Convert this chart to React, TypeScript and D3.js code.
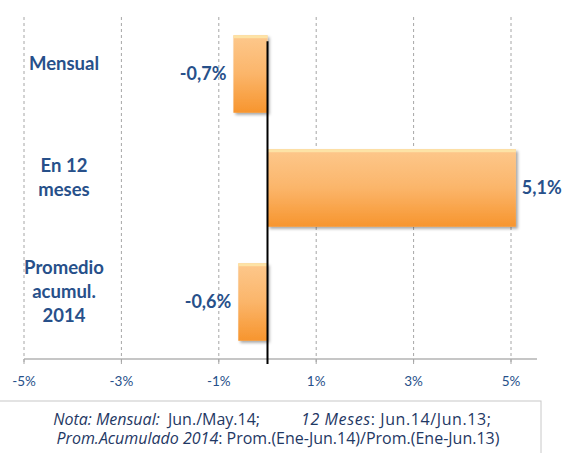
import * as d3 from 'd3'

const categories = ['Mensual', 'En 12 meses', 'Promedio acumul. 2014']
const categoryLines = [['Mensual'], ['En 12', 'meses'], ['Promedio', 'acumul.', '2014']]
const values = [-0.7, 5.1, -0.6]
const valueLabels = ['-0,7%', '5,1%', '-0,6%']
const tickValues = [-5, -3, -1, 1, 3, 5]

const width = 566
const height = 453
const font = 'Lato, "Open Sans", sans-serif'
const noteFont = '"Open Sans", Lato, sans-serif'
const blue = '#27508a'

function App() {
  const x = d3.scaleLinear().domain([-5, 5]).range([24, 511])
  const y = d3.scaleBand().domain(categories).range([17, 359]).paddingInner(0.32).paddingOuter(0.16)
  const axisY = 359

  return (
    <svg width={width} height={height} style={{ position: 'absolute', left: 0, top: 0, background: '#fff' }}>
      <defs>
        <linearGradient id="barFill" x1="0" y1="0" x2="0" y2="1">
          <stop offset="0" stopColor="#fdc88c" />
          <stop offset="0.5" stopColor="#fbb56a" />
          <stop offset="1" stopColor="#f7952e" />
        </linearGradient>
        <filter id="shadow" x="-20%" y="-20%" width="140%" height="140%">
          <feDropShadow dx="2" dy="2" stdDeviation="1.5" floodColor="#000" floodOpacity="0.35" />
        </filter>
      </defs>

      {/* grid lines */}
      {tickValues.map(t => (
        <line key={t} x1={x(t)} x2={x(t)} y1={17} y2={axisY + 4}
          stroke="#a6a6a6" strokeWidth={1} strokeDasharray="3,3" />
      ))}

      {/* x axis */}
      <line x1={x(-5)} x2={537} y1={axisY} y2={axisY} stroke="#b3b3b3" strokeWidth={1.5} />
      {tickValues.map(t => (
        <line key={'tk' + t} x1={x(t)} x2={x(t)} y1={axisY} y2={axisY + 5} stroke="#a6a6a6" strokeWidth={1} />
      ))}
      {tickValues.map(t => (
        <text key={'tl' + t} x={x(t)} y={axisY + 27} textAnchor="middle" fontFamily={font}
          fontSize={13.5} fill={blue}>{t + '%'}</text>
      ))}

      {/* bars */}
      {values.map((v, i) => {
        const y0 = y(categories[i])!
        const x0 = x(Math.min(0, v))
        const w = Math.abs(x(v) - x(0))
        const h = y.bandwidth()
        return (
          <g key={i}>
            <rect x={x0} y={y0} width={w} height={h} fill="url(#barFill)" filter="url(#shadow)" />
            <rect x={x0} y={y0} width={w} height={3} fill="#fde3a6" />
          </g>
        )
      })}

      {/* zero line */}
      <line x1={x(0)} x2={x(0)} y1={y(categories[0])! + 6} y2={axisY + 5} stroke="#000" strokeWidth={2} />

      {/* value labels */}
      {values.map((v, i) => {
        const cy = y(categories[i])! + y.bandwidth() / 2
        const pos = v >= 0
        return (
          <text key={'v' + i} x={pos ? x(v) + 6 : x(v) - 7} y={cy + 6}
            textAnchor={pos ? 'start' : 'end'} fontFamily={font} fontWeight="bold"
            fontSize={18} fill={blue}>{valueLabels[i]}</text>
        )
      })}

      {/* category labels */}
      {categoryLines.map((lines, i) => {
        const cy = y(categories[i])! + y.bandwidth() / 2
        const lh = 24
        const start = cy - ((lines.length - 1) * lh) / 2 - 10
        return lines.map((l, j) => (
          <text key={'c' + i + j} x={64} y={start + j * lh + 6} textAnchor="middle"
            fontFamily={font} fontWeight="bold" fontSize={18.5} fill={blue}>{l}</text>
        ))
      })}

      {/* note box */}
      <rect x={-1} y={401} width={542} height={70} fill="#fff" stroke="#c8c8c8" strokeWidth={1} />
      <text x={260} y={425} textAnchor="end" fontFamily={noteFont} fontSize={16} fill="#1f3864">
        <tspan fontStyle="italic">Nota: Mensual:</tspan>
        <tspan>{'\u00a0 Jun./May.14;'}</tspan>
      </text>
      <text x={301} y={425} textAnchor="start" fontFamily={noteFont} fontSize={16} fill="#1f3864"
        letterSpacing={0.6}>
        <tspan fontStyle="italic">12 Meses</tspan>
        <tspan>: Jun.14/Jun.13;</tspan>
      </text>
      <text x={278} y={444} textAnchor="middle" fontFamily={noteFont} fontSize={16} fill="#1f3864">
        <tspan fontStyle="italic">Prom.Acumulado 2014</tspan>
        <tspan>: Prom.(Ene-Jun.14)/Prom.(Ene-Jun.13)</tspan>
      </text>
    </svg>
  )
}

export default App
